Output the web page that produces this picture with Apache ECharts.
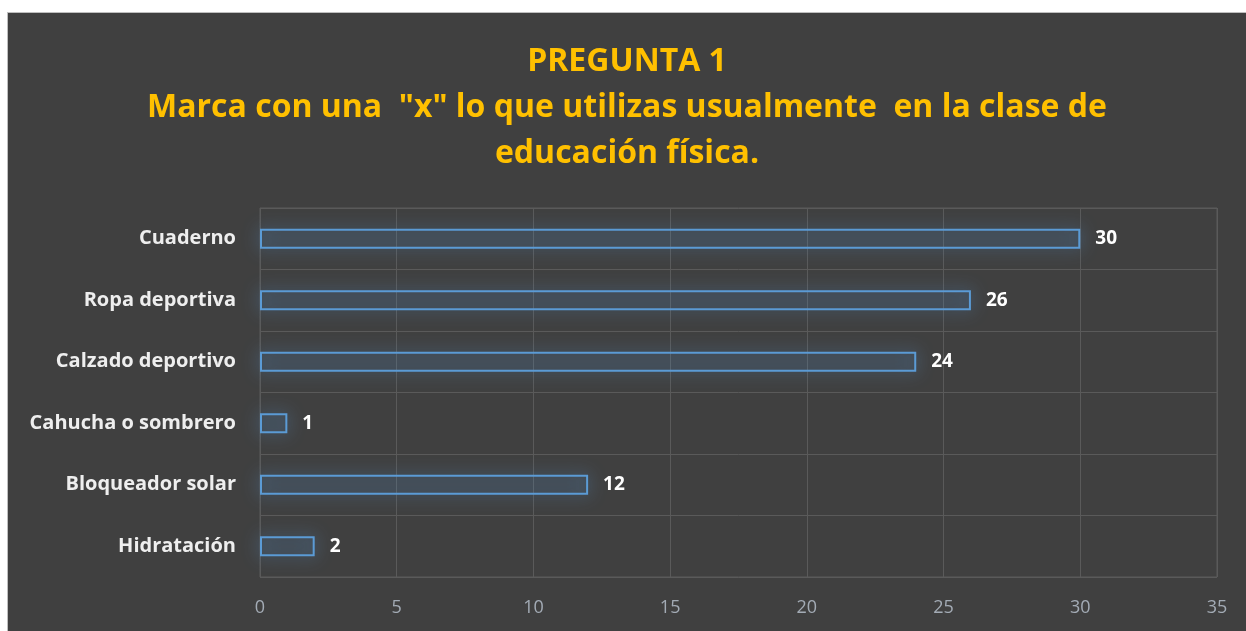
<!DOCTYPE html>
<html>
<head>
<meta charset="utf-8">
<script src="https://cdn.jsdelivr.net/npm/echarts@6/dist/echarts.min.js"></script>
<style>
    html, body { margin: 0; padding: 0; background: #ffffff; }
    #panel {
        position: absolute;
        left: 7px; top: 12px;
        width: 1239px; height: 619px;
        background: #404040;
        border-left: 1px solid #bfbfbf;
        border-top: 1px solid #bfbfbf;
        box-sizing: border-box;
    }
    #chart { width: 100%; height: 100%; }
</style>
</head>
<body>
<div id="panel"><div id="chart"></div></div>
<script>
// datos de la pregunta 1
var categorias = ['Cuaderno', 'Ropa deportiva', 'Calzado deportivo', 'Cahucha o sombrero', 'Bloqueador solar', 'Hidratación'];
var valores = [30, 26, 24, 1, 12, 2];
var ejeMax = 35;
var ejePaso = 5;

var chart = echarts.init(document.getElementById('chart'));
var option = {
    backgroundColor: 'transparent',
    title: {
        text: 'PREGUNTA 1\nMarca con una  "x" lo que utilizas usualmente  en la clase de\neducación física.',
        left: 'center',
        top: 26,
        padding: [0, 0, 0, 16],
        textStyle: {
            color: '#ffc000',
            fontFamily: 'Open Sans',
            fontWeight: 'bold',
            fontSize: 32,
            lineHeight: 46
        }
    },
    grid: {
        left: 252,
        right: 29,
        top: 195,
        bottom: 54,
        show: true,
        borderColor: '#5a5a5a',
        borderWidth: 1
    },
    xAxis: {
        type: 'value',
        min: 0,
        max: ejeMax,
        interval: ejePaso,
        axisLine: { show: false },
        axisTick: { show: false },
        splitLine: { lineStyle: { color: '#5a5a5a', width: 1 } },
        axisLabel: {
            color: '#a3abb5',
            fontFamily: 'Open Sans',
            fontSize: 18,
            margin: 22
        }
    },
    yAxis: {
        type: 'category',
        data: categorias,
        inverse: true,
        axisLine: { show: false },
        axisTick: { show: false },
        splitLine: { show: true, lineStyle: { color: '#5a5a5a', width: 1 } },
        axisLabel: {
            color: '#eeeeee',
            fontFamily: 'Open Sans',
            fontWeight: 'bold',
            fontSize: 20,
            margin: 24
        }
    },
    series: [{
        type: 'bar',
        data: valores,
        barWidth: 20,
        itemStyle: {
            color: 'rgba(91,155,213,0.05)',
            borderColor: '#5b9bd5',
            borderWidth: 2,
            shadowBlur: 16,
            shadowColor: 'rgba(91,155,213,0.9)'
        },
        label: {
            show: true,
            position: 'right',
            distance: 15,
            color: '#ffffff',
            fontFamily: 'Open Sans',
            fontWeight: 'bold',
            fontSize: 19
        }
    }]
};
chart.setOption(option);
</script>
</body>
</html>
